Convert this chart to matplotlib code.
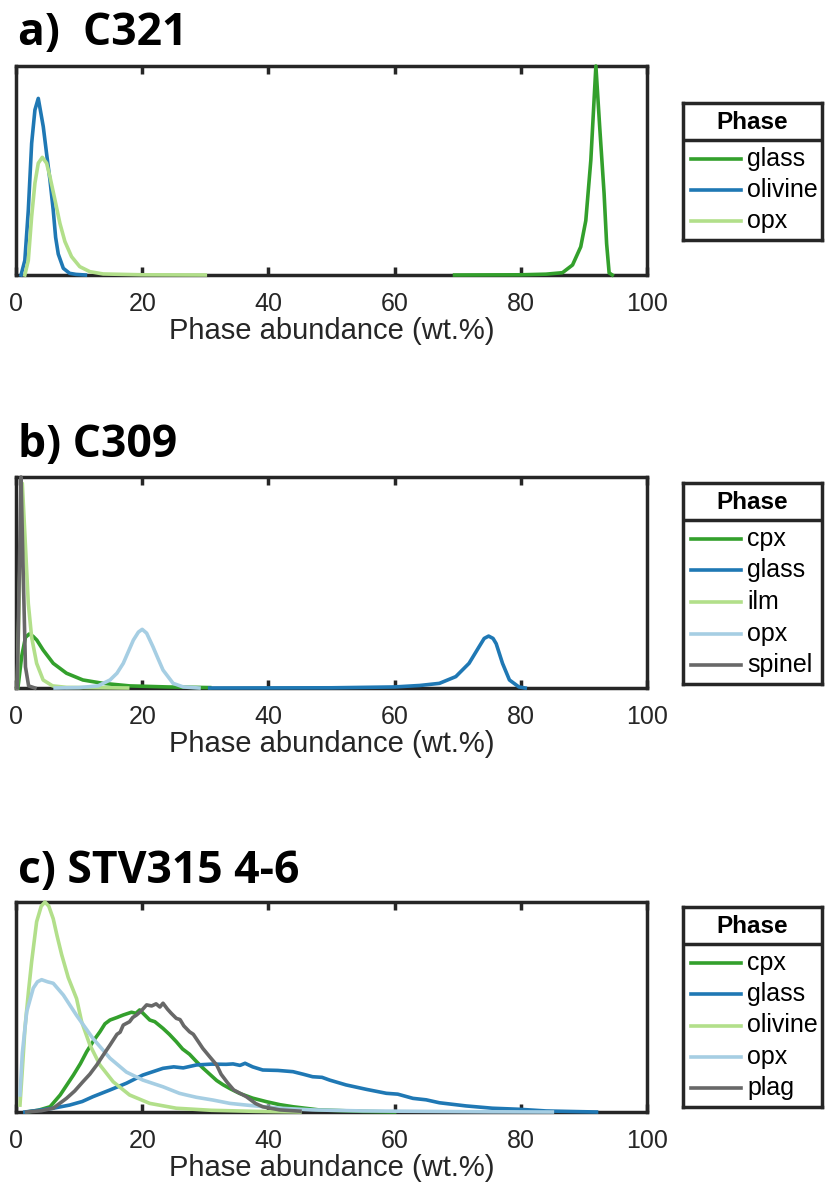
import matplotlib.pyplot as plt

# ——— figure size in pixels ———
W, H = 828, 1193
DPI = 100

# ——— colours (same order as legend entries) ———
GREEN = '#33a02c'
BLUE = '#1f78b4'
LGREEN = '#b2df8a'
LBLUE = '#a6cee3'
GREY = '#686868'
AXC = '#262626'

# ——— a) C321 ———
glass_a_x = [69.5, 80, 84, 86.6, 88.2, 89.5, 90.3, 91.1, 91.9, 92.5, 93.2, 93.6, 94.0, 94.5]
glass_a_y = [0, 0.001, 0.004, 0.011, 0.048, 0.135, 0.26, 0.55, 1.0, 0.71, 0.39, 0.15, 0.01, 0]
olivine_a_x = [0.8, 1.4, 1.95, 2.48, 3.0, 3.53, 4.32, 4.85, 5.38, 5.9, 6.28, 6.7, 7.5, 8.5, 9.5, 11]
olivine_a_y = [0, 0.07, 0.31, 0.63, 0.79, 0.845, 0.71, 0.58, 0.455, 0.31, 0.18, 0.10, 0.032, 0.008, 0.003, 0]
opx_a_x = [1.4, 1.95, 2.48, 3.0, 3.53, 4.17, 4.85, 5.38, 6.17, 6.96, 7.75, 8.8, 10.1, 11.7, 13.8, 20, 30]
opx_a_y = [0, 0.07, 0.28, 0.44, 0.535, 0.563, 0.535, 0.47, 0.36, 0.247, 0.16, 0.088, 0.04, 0.016, 0.005, 0.001, 0]

# ——— b) C309 ———
cpx_b_x = [0.3, 0.9, 1.5, 2.1, 2.7, 3.3, 4.3, 5.9, 8.0, 10.6, 13.8, 18.0, 24, 30.7]
cpx_b_y = [0, 0.15, 0.24, 0.256, 0.245, 0.227, 0.18, 0.117, 0.07, 0.038, 0.022, 0.01, 0.005, 0.002]
glass_b_x = [30.7, 50, 60, 64, 67.1, 69.7, 71.8, 73.4, 74.2, 74.9, 75.6, 76.1, 77.1, 78.2, 79.7, 80.7]
glass_b_y = [0, 0.001, 0.005, 0.012, 0.022, 0.054, 0.117, 0.196, 0.235, 0.246, 0.235, 0.21, 0.117, 0.038, 0.005, 0]
ilm_b_x = [0.2, 0.6, 1.0, 1.42, 1.95, 2.48, 3.27, 4.3, 5.8, 8, 17.7]
ilm_b_y = [0, 0.55, 0.97, 0.72, 0.40, 0.24, 0.117, 0.038, 0.01, 0.003, 0]
opx_b_x = [6.2, 10, 13, 14.9, 16, 17.0, 18.6, 19.4, 20.0, 20.7, 21.7, 22.5, 23.3, 24.9, 26.5, 29]
opx_b_y = [0, 0.002, 0.01, 0.038, 0.07, 0.117, 0.227, 0.265, 0.278, 0.26, 0.196, 0.14, 0.085, 0.022, 0.005, 0]
spinel_b_x = [0.2, 0.5, 0.8, 1.1, 1.5, 2.0, 3.0]
spinel_b_y = [0, 0.5, 1.0, 0.6, 0.1, 0.01, 0]

# ——— c) STV315 4-6 ———
cpx_c_x = [1.7, 3.5, 5.4, 7.0, 9.1, 10.2, 11.2, 12.3, 13.3, 14.1, 14.9, 16.0, 17.0, 18.3, 19.0,
           19.6, 20.3, 21.2, 22.0, 23.3, 24.3, 25.4, 26.4, 27.5, 28.6, 29.6, 30.7, 31.8, 32.8,
           34.0, 35.4, 37.5, 39.7, 41.8, 43.9, 48, 55, 60]
cpx_c_y = [0, 0.008, 0.025, 0.081, 0.176, 0.23, 0.287, 0.34, 0.382, 0.42, 0.438, 0.45, 0.462, 0.475, 0.47,
           0.486, 0.465, 0.438, 0.43, 0.398, 0.37, 0.335, 0.30, 0.275, 0.24, 0.21, 0.18, 0.15, 0.13,
           0.11, 0.089, 0.066, 0.049, 0.035, 0.025, 0.01, 0.003, 0]
glass_c_x = [1.4, 4, 5.9, 8.5, 10.5, 12.2, 14.9, 17.5, 20.1, 23.3, 25.0, 26.5, 28.6, 31, 33.3, 34.4,
             35.5, 36.3, 37.5, 39.1, 41.5, 43.9, 45.5, 47.0, 48.5, 49.7, 52.3, 55.5, 58.7, 60.5,
             62.9, 65.0, 67.1, 71.3, 75.5, 79.7, 84, 92]
glass_c_y = [0, 0.01, 0.018, 0.033, 0.05, 0.073, 0.105, 0.137, 0.176, 0.208, 0.215, 0.21, 0.224, 0.228, 0.227, 0.229,
             0.222, 0.232, 0.215, 0.20, 0.198, 0.192, 0.18, 0.168, 0.165, 0.152, 0.129, 0.108, 0.089, 0.085,
             0.065, 0.058, 0.044, 0.029, 0.018, 0.013, 0.005, 0]
olivine_c_x = [0.63, 1.0, 1.42, 2.0, 2.48, 3.27, 4.0, 4.59, 5.2, 5.9, 6.5, 7.23, 8.28, 9.6, 10.4, 11.7,
               13.3, 15.4, 18.0, 21.2, 25.4, 31, 38, 45]
olivine_c_y = [0.033, 0.2, 0.40, 0.58, 0.716, 0.906, 0.98, 1.0, 0.98, 0.92, 0.84, 0.75, 0.64, 0.54, 0.43, 0.32,
               0.224, 0.144, 0.081, 0.041, 0.018, 0.008, 0.003, 0]
opx_c_x = [0.63, 1.0, 1.7, 2.74, 3.4, 4.06, 5.0, 5.9, 7.5, 9.6, 12.2, 14.9, 17.5, 20.1, 23.3, 25.9, 27,
           28.6, 31.2, 33.9, 36.5, 41.8, 47, 55, 65, 75, 85]
opx_c_y = [0.081, 0.28, 0.478, 0.59, 0.62, 0.63, 0.62, 0.613, 0.557, 0.46, 0.35, 0.256, 0.19, 0.152, 0.12, 0.089, 0.081,
           0.07, 0.057, 0.041, 0.033, 0.018, 0.01, 0.005, 0.003, 0.001, 0]
plag_c_x = [1.7, 4.0, 5.9, 8.0, 9.3, 10.6, 11.7, 12.8, 13.8, 14.9, 16.0, 16.5, 17.0, 18.0, 18.5, 19.1,
            19.8, 20.7, 21.5, 22.2, 22.8, 23.3, 24.0, 24.6, 25.4, 26.0, 26.6, 27.5, 28.1, 29.0, 29.6,
            30.7, 31.8, 32.5, 33.5, 34.5, 36.5, 38.0, 39.1, 41.8, 45]
plag_c_y = [0, 0.006, 0.018, 0.065, 0.1, 0.144, 0.18, 0.224, 0.27, 0.319, 0.37, 0.38, 0.414, 0.43, 0.45, 0.462,
            0.48, 0.51, 0.505, 0.515, 0.50, 0.518, 0.49, 0.47, 0.446, 0.44, 0.41, 0.382, 0.37, 0.33, 0.303,
            0.263, 0.224, 0.18, 0.14, 0.105, 0.073, 0.04, 0.025, 0.01, 0.004]

ticks = [0, 20, 40, 60, 80, 100]

# ——— layout (pixels): title baseline, axes top/bottom, legend top/bottom ———
panels = [
    dict(title='a)  C321', tb=45, top=66, bot=275, ltop=103, lbot=240,
         names=['glass', 'olivine', 'opx'], colors=[GREEN, BLUE, LGREEN],
         data=[(glass_a_x, glass_a_y), (olivine_a_x, olivine_a_y), (opx_a_x, opx_a_y)]),
    dict(title='b) C309', tb=457, top=477, bot=688, ltop=483, lbot=684,
         names=['cpx', 'glass', 'ilm', 'opx', 'spinel'], colors=[GREEN, BLUE, LGREEN, LBLUE, GREY],
         data=[(cpx_b_x, cpx_b_y), (glass_b_x, glass_b_y), (ilm_b_x, ilm_b_y),
               (opx_b_x, opx_b_y), (spinel_b_x, spinel_b_y)]),
    dict(title='c) STV315 4-6', tb=883, top=902, bot=1112, ltop=907, lbot=1107,
         names=['cpx', 'glass', 'olivine', 'opx', 'plag'], colors=[GREEN, BLUE, LGREEN, LBLUE, GREY],
         data=[(cpx_c_x, cpx_c_y), (glass_c_x, glass_c_y), (olivine_c_x, olivine_c_y),
               (opx_c_x, opx_c_y), (plag_c_x, plag_c_y)]),
]

AX_L, AX_R = 16, 647
LEG_L, LEG_R = 683, 822
HEADER = 37

plt.rcParams['font.family'] = ['Liberation Sans', 'DejaVu Sans']

fig = plt.figure(figsize=(W / DPI, H / DPI), dpi=DPI)


def add_px_axes(left, top, right, bottom):
    return fig.add_axes([left / W, 1 - bottom / H, (right - left) / W, (bottom - top) / H])


for p in panels:
    ax = add_px_axes(AX_L, p['top'], AX_R, p['bot'])
    ymax = 0
    for (xs, ys), col in zip(p['data'], p['colors']):
        ax.plot(xs, ys, color=col, lw=2.6, zorder=3, clip_on=False, solid_joinstyle='round')
        ymax = max(ymax, max(ys))
    ax.set_xlim(0, 100)
    ax.set_ylim(0, ymax)
    ax.set_xticks(ticks)
    ax.set_yticks([])
    ax.tick_params(axis='x', direction='in', length=6, width=2.5, color=AXC,
                   top=True, labelsize=18, labelcolor=AXC, pad=12)
    for s in ax.spines.values():
        s.set_linewidth(2.5)
        s.set_color(AXC)
    ax.set_xlabel('Phase abundance (wt.%)', fontsize=21, color=AXC, labelpad=1)

    fig.text(18 / W, 1 - p['tb'] / H, p['title'], family=['Open Sans', 'DejaVu Sans'],
             fontsize=32, fontweight='bold', va='baseline', ha='left')

    # ——— legend box with "Phase" header ———
    lh = p['lbot'] - p['ltop']
    lw_px = LEG_R - LEG_L
    lg = add_px_axes(LEG_L, p['ltop'], LEG_R, p['lbot'])
    lg.set_xlim(0, lw_px)
    lg.set_ylim(lh, 0)
    lg.set_xticks([])
    lg.set_yticks([])
    for s in lg.spines.values():
        s.set_linewidth(2.5)
        s.set_color(AXC)
    lg.axhline(HEADER, color=AXC, lw=2.5)
    lg.text(lw_px / 2, HEADER / 2 + 1, 'Phase', ha='center', va='center',
            fontsize=17.5, fontweight='bold', color='black')
    n = len(p['names'])
    step = (lh - HEADER - 6) / n
    for i, (name, col) in enumerate(zip(p['names'], p['colors'])):
        yy = HEADER + 3 + step * (i + 0.5)
        lg.plot([8, 58], [yy, yy], color=col, lw=2.6)
        lg.text(64, yy, name, va='center', ha='left', fontsize=18, color='black')

fig.savefig('out.png', dpi=DPI)
